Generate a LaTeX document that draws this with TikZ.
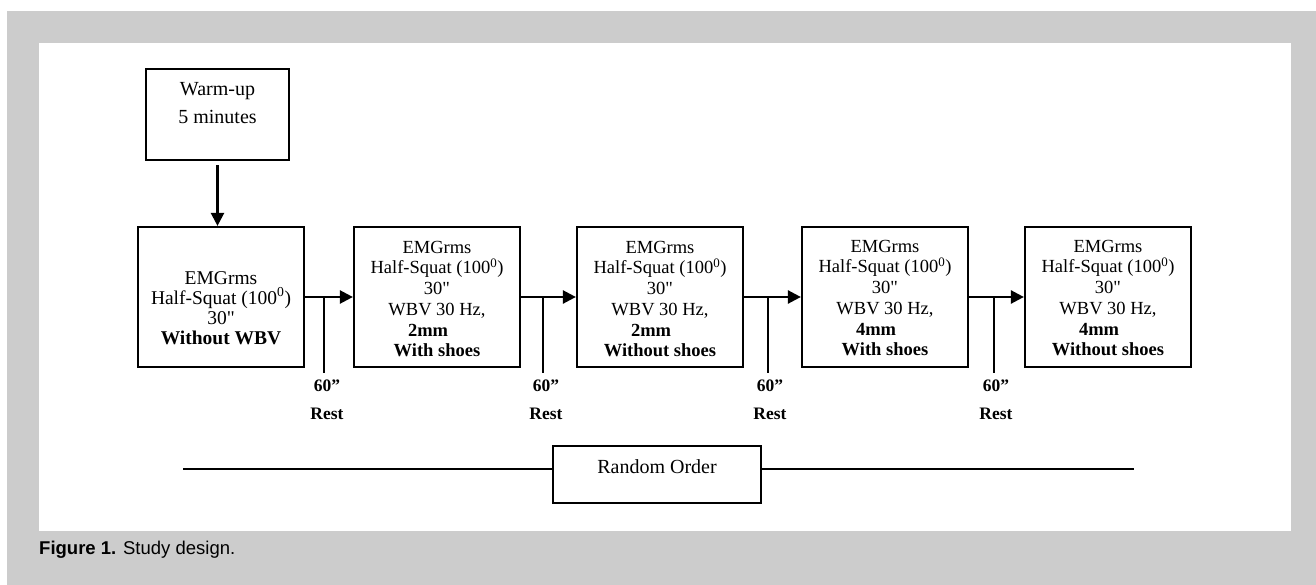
\documentclass[tikz,border=0pt]{standalone}
\usepackage{fontspec}
\setmainfont{Liberation Serif}[Ligatures=TeX]
\newfontfamily\qfont{Liberation Serif}
\newfontfamily\capfont{Liberation Sans}
\newcommand{\sq}{{\qfont\symbol{34}}}
\usetikzlibrary{arrows.meta,calc}
\definecolor{bggray}{HTML}{CCCCCC}
\begin{document}
\begin{tikzpicture}[x=1pt,y=-1pt,
  box/.style={draw,line width=2.2pt,minimum width=166pt,minimum height=140pt,inner sep=0pt},
  txt/.style={align=center,font=\fontsize{18.5}{20.7}\selectfont,inner sep=0pt},
  arr/.style={line width=2.4pt,-{Triangle[length=13pt,width=13pt]}},
  ln/.style={line width=2.4pt},
  rest/.style={align=center,font=\bfseries\fontsize{17.5}{28}\selectfont,inner sep=0pt}]
\useasboundingbox (0,0) rectangle (1316,585);
\fill[white] (0,0) rectangle (1316,585);
\fill[bggray] (7,11) rectangle (1316,585);
\fill[white] (39,43) rectangle (1291,531);

% warm-up
\node[draw,line width=2.2pt,minimum width=143pt,minimum height=91pt,inner sep=0pt] (warm) at (217.5,114.5) {};
\node[align=center,font=\fontsize{20}{28}\selectfont,inner sep=0pt] (warmt) at (217.5,103) {Warm-up\\5 minutes};

% main boxes
\node[box] (b1) at (221,297) {};
\node[align=center,font=\fontsize{19.5}{20}\selectfont,inner sep=0pt] (t1) at (221,308) {EMGrms\\Half-Squat (100\textsuperscript{0})\\30\sq\\\textbf{Without WBV}};

\node[box] (b2) at (437,297) {};
\node[txt] (t2) at (437,299) {EMGrms\\Half-Squat (100\textsuperscript{0})\\30\sq\\WBV 30 Hz,\\\makebox[58pt][l]{\bfseries 2mm}\\\textbf{With shoes}};

\node[box] (b3) at (660,297) {};
\node[txt] (t3) at (660,299) {EMGrms\\Half-Squat (100\textsuperscript{0})\\30\sq\\WBV 30 Hz,\\\makebox[58pt][l]{\bfseries 2mm}\\\textbf{Without shoes}};

\node[box] (b4) at (885,297) {};
\node[txt] (t4) at (885,298) {EMGrms\\Half-Squat (100\textsuperscript{0})\\30\sq\\WBV 30 Hz,\\\makebox[58pt][l]{\bfseries 4mm}\\\textbf{With shoes}};

\node[box] (b5) at (1108,297) {};
\node[txt] (t5) at (1108,298) {EMGrms\\Half-Squat (100\textsuperscript{0})\\30\sq\\WBV 30 Hz,\\\makebox[58pt][l]{\bfseries 4mm}\\\textbf{Without shoes}};

% warm-up arrow
\draw[arr,shorten <=4pt] (warm.south) -- (b1.north -| warm.south);

% arrows between boxes
\draw[arr] (b1.east) -- (b2.west);
\draw[arr] (b2.east) -- (b3.west);
\draw[arr] (b3.east) -- (b4.west);
\draw[arr] (b4.east) -- (b5.west);

% rest ticks
\coordinate (k1b) at (324,373);
\coordinate (k2b) at (543,373);
\coordinate (k3b) at (768,373);
\coordinate (k4b) at (994,373);
\draw[ln] (k1b |- b1.east) -- (k1b);
\draw[ln] (k2b |- b2.east) -- (k2b);
\draw[ln] (k3b |- b3.east) -- (k3b);
\draw[ln] (k4b |- b4.east) -- (k4b);

\node[rest] (r1) at (327,400) {60”\\Rest};
\node[rest] (r2) at (546,400) {60”\\Rest};
\node[rest] (r3) at (770,400) {60”\\Rest};
\node[rest] (r4) at (996,400) {60”\\Rest};

% random order
\node[draw,line width=2.2pt,minimum width=208pt,minimum height=57pt,inner sep=0pt] (rand) at (657,474.5) {};
\node[font=\fontsize{20}{24}\selectfont,inner sep=0pt] (randt) at (657,467) {Random Order};
\coordinate (rl) at (183,469);
\coordinate (rr) at (1134,469);
\draw[ln] (rl) -- (rl -| rand.west);
\draw[ln] (rand.east |- rr) -- (rr);

% caption
\node[anchor=base west,inner sep=0pt,font=\capfont\fontsize{18.5}{22}\selectfont] (cap) at (39,554) {\textbf{Figure 1.} Study design.};
\end{tikzpicture}
\end{document}
